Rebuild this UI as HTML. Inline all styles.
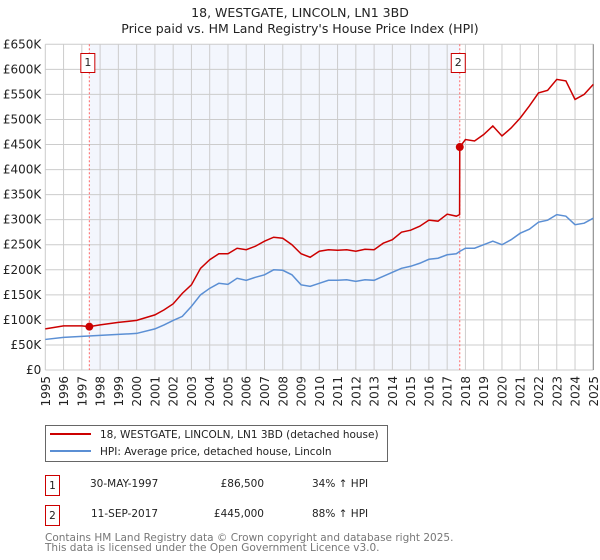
<!DOCTYPE html>
<html><head><meta charset="utf-8"><style>
body{margin:0;background:#fff;font-family:"DejaVu Sans","Liberation Sans",sans-serif;}
svg{display:block}
</style></head><body>
<svg id="c" width="600" height="560" xmlns="http://www.w3.org/2000/svg" font-family="DejaVu Sans, Liberation Sans, sans-serif">
<text x="300" y="17" text-anchor="middle" font-size="12.5" fill="#222">18, WESTGATE, LINCOLN, LN1 3BD</text>
<text x="300" y="33" text-anchor="middle" font-size="12.5" fill="#222">Price paid vs. HM Land Registry's House Price Index (HPI)</text>
<g id="plot"></g>
<g>
<rect x="45.5" y="425.5" width="342" height="36" fill="#fff" stroke="#666"/>
<line x1="50" y1="434" x2="91" y2="434" stroke="#cc0000" stroke-width="2"/>
<text x="100" y="438" font-size="10.5" fill="#222">18, WESTGATE, LINCOLN, LN1 3BD (detached house)</text>
<line x1="50" y1="451" x2="91" y2="451" stroke="#5b8fd4" stroke-width="2"/>
<text x="100" y="455" font-size="10.5" fill="#222">HPI: Average price, detached house, Lincoln</text>
</g>
<g font-size="10.5" fill="#222">
<rect x="45.5" y="475.5" width="14" height="20" fill="#fff" stroke="#cc0000"/>
<text x="52.5" y="489" text-anchor="middle">1</text>
<text x="90" y="487">30-MAY-1997</text>
<text x="264" y="487" text-anchor="end">£86,500</text>
<text x="312" y="487">34% ↑ HPI</text>
<rect x="45.5" y="505.5" width="14" height="20" fill="#fff" stroke="#cc0000"/>
<text x="52.5" y="519" text-anchor="middle">2</text>
<text x="91" y="517">11-SEP-2017</text>
<text x="264" y="517" text-anchor="end">£445,000</text>
<text x="312" y="517">88% ↑ HPI</text>
</g>
<text x="45" y="541" font-size="10.5" fill="#777">Contains HM Land Registry data © Crown copyright and database right 2025.</text>
<text x="45" y="551" font-size="10.5" fill="#777">This data is licensed under the Open Government Licence v3.0.</text>
</svg>
<script>
const years=[1995,1996,1997,1998,1999,2000,2001,2001.5,2002,2002.5,2003,2003.5,2004,2004.5,2005,2005.5,2006,2006.5,2007,2007.5,2008,2008.5,2009,2009.5,2010,2010.5,2011,2011.5,2012,2012.5,2013,2013.5,2014,2014.5,2015,2015.5,2016,2016.5,2017,2017.5,2017.7,2018,2018.5,2019,2019.5,2020,2020.5,2021,2021.5,2022,2022.5,2023,2023.5,2024,2024.5,2025];
const hpiValues=[61,65,67,69,71,73,82,90,99,107,127,150,163,173,171,183,179,185,190,200,199,190,170,167,173,179,179,180,177,180,179,187,195,203,207,213,221,223,230,232,237,243,243,250,257,250,260,273,281,295,299,310,307,290,293,303];
const propYears=[1995,1996,1997,1997.41,1998,1999,2000,2001,2001.5,2002,2002.5,2003,2003.5,2004,2004.5,2005,2005.5,2006,2006.5,2007,2007.5,2008,2008.5,2009,2009.5,2010,2010.5,2011,2011.5,2012,2012.5,2013,2013.5,2014,2014.5,2015,2015.5,2016,2016.5,2017,2017.5,2017.68,2017.69,2018,2018.5,2019,2019.5,2020,2020.5,2021,2021.5,2022,2022.5,2023,2023.5,2024,2024.5,2025];
const propValues=[82,88,88,86.5,90,95,99,110,120,132,153,170,203,220,232,232,243,240,247,257,265,263,250,232,225,237,240,239,240,237,241,240,253,260,275,279,287,299,297,311,307,310,445,460,457,470,487,467,483,503,527,553,558,580,577,540,550,570];
const saleYears=[1997.41,2017.69];
const salePrices=[86.5,445];
const saleLabels=["1","2"];
const yTicks=[0,50,100,150,200,250,300,350,400,450,500,550,600,650];
const yTickLabels=["£0","£50K","£100K","£150K","£200K","£250K","£300K","£350K","£400K","£450K","£500K","£550K","£600K","£650K"];
const xTicks=[1995,1996,1997,1998,1999,2000,2001,2002,2003,2004,2005,2006,2007,2008,2009,2010,2011,2012,2013,2014,2015,2016,2017,2018,2019,2020,2021,2022,2023,2024,2025];

const X0=45.3,X1=593.3,Y0=370,Y1=44.3,NS="http://www.w3.org/2000/svg";
const xs=y=>X0+(y-1995)/30*(X1-X0);
const ys=v=>Y0-v/650*(Y0-Y1);
const g=document.getElementById('plot');
function mk(t,a){const e=document.createElementNS(NS,t);for(const k in a)e.setAttribute(k,a[k]);g.appendChild(e);return e;}
let e=mk('rect',{x:X0,y:Y1,width:X1-X0,height:Y0-Y1,fill:'#fff'});


e=mk('rect',{x:xs(saleYears[0]),y:Y1,width:xs(saleYears[1])-xs(saleYears[0]),height:Y0-Y1,fill:'#f3f6fd'});


yTicks.forEach((v,i)=>{
 let l=mk('line',{x1:X0,x2:X1,y1:ys(v),y2:ys(v),stroke:'#ccc','stroke-width':1});
 
 
 let t=mk('text',{x:X0-4,y:ys(v)+4,'text-anchor':'end','font-size':12,fill:'#222'});
 t.textContent=yTickLabels[i];
 
 
});
xTicks.forEach(y=>{
 let l=mk('line',{x1:xs(y),x2:xs(y),y1:Y1,y2:Y0,stroke:'#ccc','stroke-width':1});
 
 
 let t=mk('text',{x:0,y:0,'text-anchor':'end','font-size':12,fill:'#222',transform:`translate(${xs(y)+4.5},${Y0+6}) rotate(-90)`});
 t.textContent=String(y);
 
 
});
e=mk('line',{x1:X1,x2:X1,y1:Y1,y2:Y0,stroke:'#888','stroke-width':1});


saleYears.forEach((y,i)=>{
 let l=mk('line',{x1:xs(y),x2:xs(y),y1:Y1,y2:Y0,stroke:'#ff6666','stroke-width':1,'stroke-dasharray':'2,2'});
 
 
 let r=mk('rect',{x:xs(y)-8.5,y:53.5,width:14,height:19,fill:'#fff',stroke:'#cc0000'});
 
 
 let t=mk('text',{x:xs(y)-1.5,y:66,'text-anchor':'middle','font-size':11,fill:'#222'});
 t.textContent=saleLabels[i];
 
 
});
e=mk('polyline',{points:years.map((y,i)=>xs(y)+','+ys(hpiValues[i])).join(' '),fill:'none',stroke:'#5b8fd4','stroke-width':1.5});


e=mk('polyline',{points:propYears.map((y,i)=>xs(y)+','+ys(propValues[i])).join(' '),fill:'none',stroke:'#cc0000','stroke-width':1.5});


saleYears.forEach((y,i)=>{
 let c=mk('circle',{cx:xs(y),cy:ys(salePrices[i]),r:4,fill:'#cc0000'});
 
 
});
</script>
</body></html>
